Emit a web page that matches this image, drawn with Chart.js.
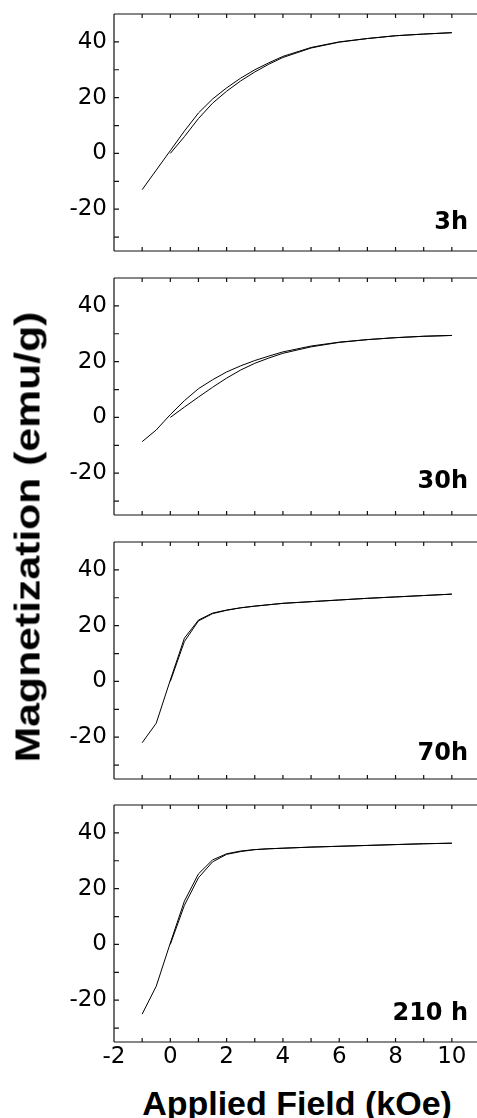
<!DOCTYPE html>
<html>
<head>
<meta charset="utf-8">
<script src="https://cdn.jsdelivr.net/npm/chart.js@4.4.0/dist/chart.umd.min.js"></script>
<style>
  html, body { margin: 0; padding: 0; background: #fff; }
  body { width: 477px; height: 1118px; overflow: hidden; position: relative; }
  canvas { position: absolute; left: 0; }
  .ttl { position: absolute; white-space: nowrap; font-family: "Liberation Sans", Arial, sans-serif; font-weight: bold; color: #000; line-height: 1; }
</style>
</head>
<body>
<canvas id="p0"></canvas>
<canvas id="p1"></canvas>
<canvas id="p2"></canvas>
<canvas id="p3"></canvas>
<div class="ttl" id="ytitle" style="font-size:35px; left:27px; top:537px; transform: translate(-50%,-50%) rotate(-90deg) scaleX(1.22);">Magnetization (emu/g)</div>
<div class="ttl" id="xtitle" style="font-size:33px; left:297px; top:1087px; transform: translateX(-50%) scaleX(1.03);">Applied Field (kOe)</div>
<script>
// ---- data ----
const panelLabels = ['3h', '30h', '70h', '210 h'];

// loop branch field values (kOe)
const fieldLoop = [-1, -0.5, 0, 0.5, 1, 1.5, 2, 2.5, 3, 3.5, 4, 5, 6, 7, 8, 9, 10];
// initial (virgin) branch field values (kOe)
const fieldVirgin = [0, 0.5, 1, 1.5, 2, 2.5, 3, 3.5, 4, 5, 6, 7, 8, 9, 10];

const loop3h   = [-13, -6, 1, 8, 14.5, 19.5, 23.5, 27, 30, 32.5, 34.8, 38, 40, 41.2, 42.2, 42.8, 43.3];
const loop30h  = [-8.7, -4.5, 1, 6, 10.3, 13.5, 16.3, 18.5, 20.4, 22, 23.5, 25.6, 27, 27.9, 28.6, 29.1, 29.4];
const loop70h  = [-22, -15, 0.5, 15.5, 22, 24.5, 25.6, 26.4, 27, 27.5, 28, 28.6, 29.2, 29.8, 30.3, 30.8, 31.3];
const loop210h = [-25, -15, 0.5, 15.5, 25.3, 30.3, 32.5, 33.5, 34, 34.3, 34.5, 34.9, 35.2, 35.5, 35.8, 36.1, 36.3];

const virgin3h   = [0, 6, 12.5, 18, 22.3, 26, 29.2, 32, 34.4, 37.8, 39.9, 41.2, 42.2, 42.8, 43.3];
const virgin30h  = [0, 3.7, 7.3, 10.8, 14.1, 17, 19.4, 21.3, 23, 25.3, 26.9, 27.9, 28.6, 29.1, 29.4];
const virgin70h  = [0, 14.3, 21.7, 24.3, 25.5, 26.4, 27, 27.5, 28, 28.6, 29.2, 29.8, 30.3, 30.8, 31.3];
const virgin210h = [0, 14, 23.9, 29.6, 32.3, 33.3, 34, 34.3, 34.5, 34.9, 35.2, 35.5, 35.8, 36.1, 36.3];

const xTickLabels = [-2, 0, 2, 4, 6, 8, 10];
const yTickLabels = [-20, 0, 20, 40];

// ---- layout ----
const loops = [loop3h, loop30h, loop70h, loop210h];
const virgins = [virgin3h, virgin30h, virgin70h, virgin210h];
const panelTops = [14, 277.5, 541.5, 804.5];
const plotH = 237;
const padTop = 14;
const labelOffsets = [22, 27, 19, 22];

const framePlugin = {
  id: 'frame',
  afterDraw(chart, args, opts) {
    const ctx = chart.ctx, a = chart.chartArea, xs = chart.scales.x, ys = chart.scales.y;
    ctx.save();
    ctx.strokeStyle = '#111';
    ctx.lineWidth = 1.2;
    ctx.beginPath();
    ctx.moveTo(a.left, a.top); ctx.lineTo(a.right, a.top);
    ctx.moveTo(a.left, a.top); ctx.lineTo(a.left, a.bottom);
    ctx.moveTo(a.left, a.bottom); ctx.lineTo(a.right, a.bottom);
    xs.ticks.forEach(t => {
      const px = xs.getPixelForValue(t.value);
      ctx.moveTo(px, a.top); ctx.lineTo(px, a.top + 4);
      ctx.moveTo(px, a.bottom); ctx.lineTo(px, a.bottom - 4);
    });
    ys.ticks.forEach(t => {
      const py = ys.getPixelForValue(t.value);
      ctx.moveTo(a.left, py); ctx.lineTo(a.left + 5, py);
    });
    ctx.stroke();
    ctx.fillStyle = '#000';
    ctx.font = 'bold 24px "DejaVu Sans"';
    ctx.textAlign = 'right';
    ctx.textBaseline = 'alphabetic';
    ctx.fillText(opts.text, 468, a.bottom - opts.offset);
    ctx.restore();
  }
};

for (let i = 0; i < 4; i++) {
  const isLast = i === 3;
  const bottomH = isLast ? 40 : 8;
  const cv = document.getElementById('p' + i);
  const H = padTop + plotH + bottomH;
  cv.width = 480; cv.height = H;
  cv.style.width = '480px'; cv.style.height = H + 'px';
  cv.style.top = (panelTops[i] - padTop) + 'px';

  const loopData = fieldLoop.map((f, k) => ({x: f, y: loops[i][k]}));
  const virginData = fieldVirgin.map((f, k) => ({x: f, y: virgins[i][k]}));

  new Chart(cv, {
    type: 'line',
    data: {
      datasets: [
        { label: 'loop', data: loopData, borderColor: '#000', borderWidth: 1, pointRadius: 0, tension: 0, fill: false },
        { label: 'initial', data: virginData, borderColor: '#000', borderWidth: 1, pointRadius: 0, tension: 0, fill: false }
      ]
    },
    options: {
      responsive: false,
      animation: false,
      events: [],
      devicePixelRatio: 1,
      layout: { padding: { top: padTop, left: 0, right: 0, bottom: 0 } },
      plugins: {
        legend: { display: false },
        tooltip: { enabled: false },
        frame: { text: panelLabels[i], offset: labelOffsets[i] }
      },
      scales: {
        x: {
          type: 'linear',
          position: 'bottom',
          min: -2, max: 11,
          grid: { display: false, drawTicks: false },
          border: { display: false },
          ticks: {
            display: isLast,
            stepSize: 1,
            autoSkip: false,
            maxRotation: 0,
            padding: 1,
            color: '#000',
            font: { family: '"DejaVu Sans"', size: 23 },
            callback: v => xTickLabels.includes(v) ? String(v) : ''
          },
          afterFit: s => { s.height = bottomH; s.paddingLeft = 0; s.paddingRight = 0; }
        },
        y: {
          type: 'linear',
          min: -35, max: 50,
          grid: { display: false, drawTicks: false },
          border: { display: false },
          ticks: {
            stepSize: 10,
            includeBounds: false,
            autoSkip: false,
            padding: 7,
            color: '#000',
            font: { family: '"DejaVu Sans"', size: 23 },
            callback: v => yTickLabels.includes(v) ? String(v) : ''
          },
          afterFit: s => { s.width = 114; s.paddingTop = 0; s.paddingBottom = 0; }
        }
      }
    },
    plugins: [framePlugin]
  });
}
</script>
</body>
</html>
